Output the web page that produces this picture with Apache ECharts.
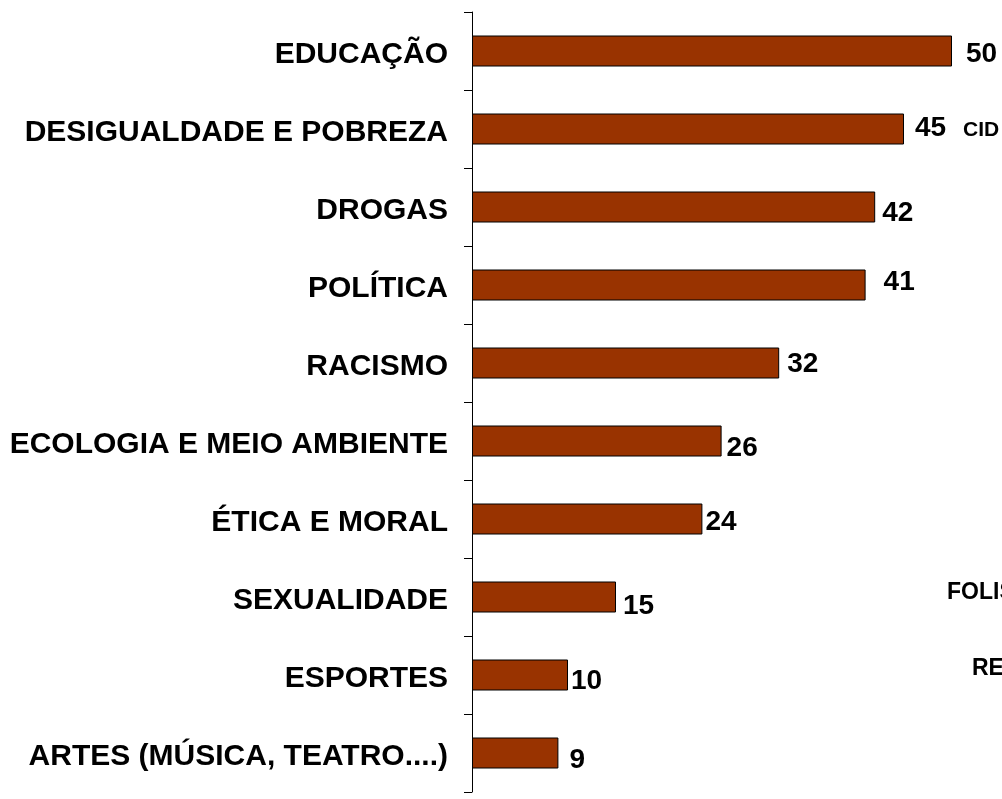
<!DOCTYPE html>
<html>
<head>
<meta charset="utf-8">
<script src="https://cdn.jsdelivr.net/npm/echarts@6/dist/echarts.min.js"></script>
<style>
  html, body { margin: 0; padding: 0; background: #fff; }
  #main { width: 1002px; height: 799px; }
</style>
</head>
<body>
<div id="main"></div>
<script>
// categories, top to bottom
const temas = [
  'EDUCAÇÃO',
  'DESIGUALDADE E POBREZA',
  'DROGAS',
  'POLÍTICA',
  'RACISMO',
  'ECOLOGIA E MEIO AMBIENTE',
  'ÉTICA E MORAL',
  'SEXUALIDADE',
  'ESPORTES',
  'ARTES (MÚSICA, TEATRO....)'
];
const valores = [50, 45, 42, 41, 32, 26, 24, 15, 10, 9];

// texts cut off at the right edge of the slide
const textosCortados = ['CID', 'FOLIS', 'RE'];

// hand placed value labels (gap from bar end, vertical shift)
const labelGap = [14, 11, 7, 18, 8, 5, 3, 7, 3, 11];
const labelShift = [3, -1, 6, -3, 1, 7, 3, 9, 6, 7];

var myChart = echarts.init(document.getElementById('main'));

let barData = [];
for (let i = 0; i < valores.length; i++) {
  barData.push({
    value: valores[i],
    label: { distance: labelGap[i], offset: [0, labelShift[i]] }
  });
}

const font = 'Liberation Sans, Arial, sans-serif';

var option = {
  animation: false,
  grid: { left: 472, top: 12, width: 528, height: 780 },
  xAxis: {
    type: 'value',
    min: 0,
    max: 55,
    show: false
  },
  yAxis: {
    type: 'category',
    data: temas,
    inverse: true,
    axisLine: { lineStyle: { color: '#000', width: 1 } },
    axisTick: { show: true, length: 8, lineStyle: { color: '#000' } },
    axisLabel: {
      margin: 24,
      formatter: '{t|{value}}',
      rich: {
        t: {
          color: '#000',
          fontFamily: font,
          fontWeight: 'bold',
          fontSize: 30,
          padding: [7, 0, 0, 0]
        }
      }
    }
  },
  series: [
    {
      type: 'bar',
      data: barData,
      barWidth: 31,
      itemStyle: { color: '#993300', borderColor: '#000', borderWidth: 1 },
      label: {
        show: true,
        position: 'right',
        color: '#000',
        fontFamily: font,
        fontWeight: 'bold',
        fontSize: 28
      }
    }
  ],
  graphic: [
    { type: 'text', left: 963, top: 120, style: { text: textosCortados[0], font: 'bold 21px ' + font, fill: '#000' } },
    { type: 'text', left: 947, top: 581, style: { text: textosCortados[1], font: 'bold 23px ' + font, fill: '#000' } },
    { type: 'text', left: 972, top: 657, style: { text: textosCortados[2], font: 'bold 23px ' + font, fill: '#000' } }
  ]
};

myChart.setOption(option);
</script>
</body>
</html>
